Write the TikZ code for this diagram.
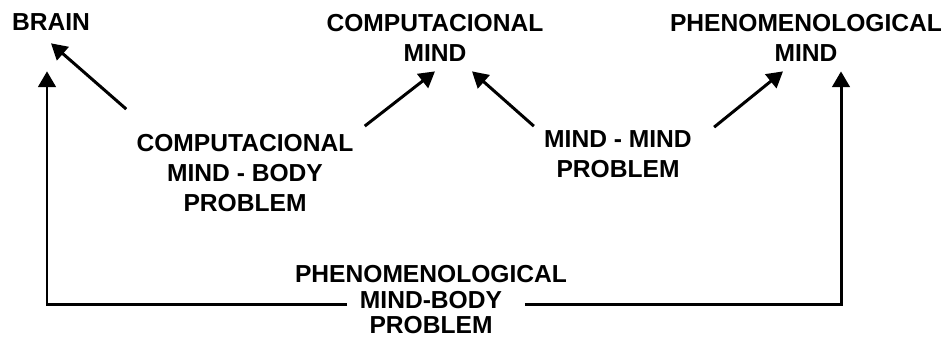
\documentclass[tikz,border=0pt]{standalone}
\usepackage{fontspec}
\setmainfont{Liberation Sans}
\usepackage{tikz}
\usetikzlibrary{arrows.meta, positioning, calc}

\begin{document}
\begin{tikzpicture}[x=0.02cm, y=-0.02cm,
    lbl/.style={align=center, inner sep=0pt, font=\fontsize{14}{17}\selectfont\bfseries},
    arr/.style={-{Triangle[width=10pt,length=9pt]}, line width=1.7pt}]
\useasboundingbox (0,0) rectangle (947,339);

% Top row
\node[lbl] (brain) at (51, 22.5) {BRAIN};
\node[lbl] (cm) at (435, 37.5) {COMPUTACIONAL\\MIND};
\node[lbl] (pm) at (806, 37.5) {PHENOMENOLOGICAL\\MIND};

% Problems
\node[lbl] (cmb) at (245, 173) {COMPUTACIONAL\\MIND - BODY\\PROBLEM};
\node[lbl] (mm) at (618, 154) {MIND - MIND\\PROBLEM};
\node[lbl, font=\fontsize{14}{14.5}\selectfont\bfseries] (pmb) at (431, 300) {PHENOMENOLOGICAL\\MIND-BODY\\PROBLEM};

% Arrows
\draw[arr] ([shift={(-10,-25)}]cmb.north west) -- ([shift={(0,12)}]brain.south);
\draw[arr] ([shift={(11,-8)}]cmb.north east) -- ([shift={(0,10)}]cm.south);
\draw[arr] ([shift={(-10,-4)}]mm.north west) -- ([shift={(37,10)}]cm.south);
\draw[arr] ([shift={(22,-3)}]mm.north east) -- ([shift={(-23,10)}]pm.south);

% Mind-body loop
\draw[arr] ([shift={(52.5,4)}]pmb.west) -| ([shift={(-4,40)}]brain.south);
\draw[arr] ([shift={(-42.5,4)}]pmb.east) -| ([shift={(35,10)}]pm.south);

\end{tikzpicture}
\end{document}
